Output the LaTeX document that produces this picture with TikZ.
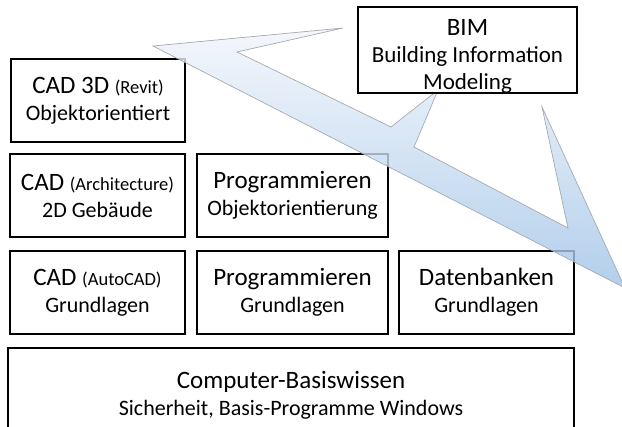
\documentclass[tikz,border=0pt]{standalone}
\usepackage{fontspec}
\setmainfont{Carlito}
\definecolor{arrowlight}{RGB}{242,246,252}
\definecolor{arrowdark}{RGB}{160,195,231}
\definecolor{arrowedge}{RGB}{165,170,178}
\newcommand{\layerhead}{\fontsize{25}{27}\selectfont}
\newcommand{\layersub}{\fontsize{22}{27}\selectfont}
\newcommand{\layerparen}{\fontsize{18.5}{27}\selectfont}
\tikzset{
  layer/.style={draw, line width=1.5pt, fill=white, align=center, inner sep=0pt, minimum height=83pt, font=\layersub},
  bigarrow/.style={draw=arrowedge, line width=0.7pt, top color=arrowlight, bottom color=arrowdark, fill opacity=0.8, line join=miter},
}

\begin{document}
\begin{tikzpicture}[x=1pt,y=-1pt]
\clip (0,0) rectangle (622,427);
\fill[white] (0,0) rectangle (622,427);
\node[layer, minimum width=566pt, minimum height=94pt] (basis) at (291,395)
  {\layerhead Computer-Basiswissen\\Sicherheit, Basis-Programme Windows};
\node[layer, minimum width=175pt] (cadgrund) at (97.5,292.5)
  {\layerhead CAD \layerparen(AutoCAD)\\Grundlagen};
\node[layer, minimum width=191pt] (proggrund) at (292.5,292.5)
  {\layerhead Programmieren\\Grundlagen};
\node[layer, minimum width=175pt] (dbgrund) at (486.5,292.5)
  {\layerhead Datenbanken\\Grundlagen};
\node[layer, minimum width=175pt] (cad2d) at (97.5,195.5)
  {\layerhead CAD \layerparen(Architecture)\\2D Gebäude};
\node[layer, minimum width=191pt] (progoo) at (292.5,195.5)
  {\layerhead Programmieren\\Objektorientierung};
\node[layer, minimum width=174pt] (cad3d) at (98,100.5)
  {\layerhead CAD 3D \layerparen(Revit)\\Objektorientiert};
\draw[bigarrow] (153,46) -- (343,28) -- (237,52) -- (391,127) -- (438,90)
  -- (414,147) -- (568,228) -- (542,107) -- (625,288) -- cycle;
\node[layer, minimum width=219pt, minimum height=84pt, font=\fontsize{23}{27}\selectfont] (bim) at (467.5,50)
  {\layerhead\rule{0pt}{28pt}BIM\\Building Information\\Modeling};
\end{tikzpicture}
\end{document}
